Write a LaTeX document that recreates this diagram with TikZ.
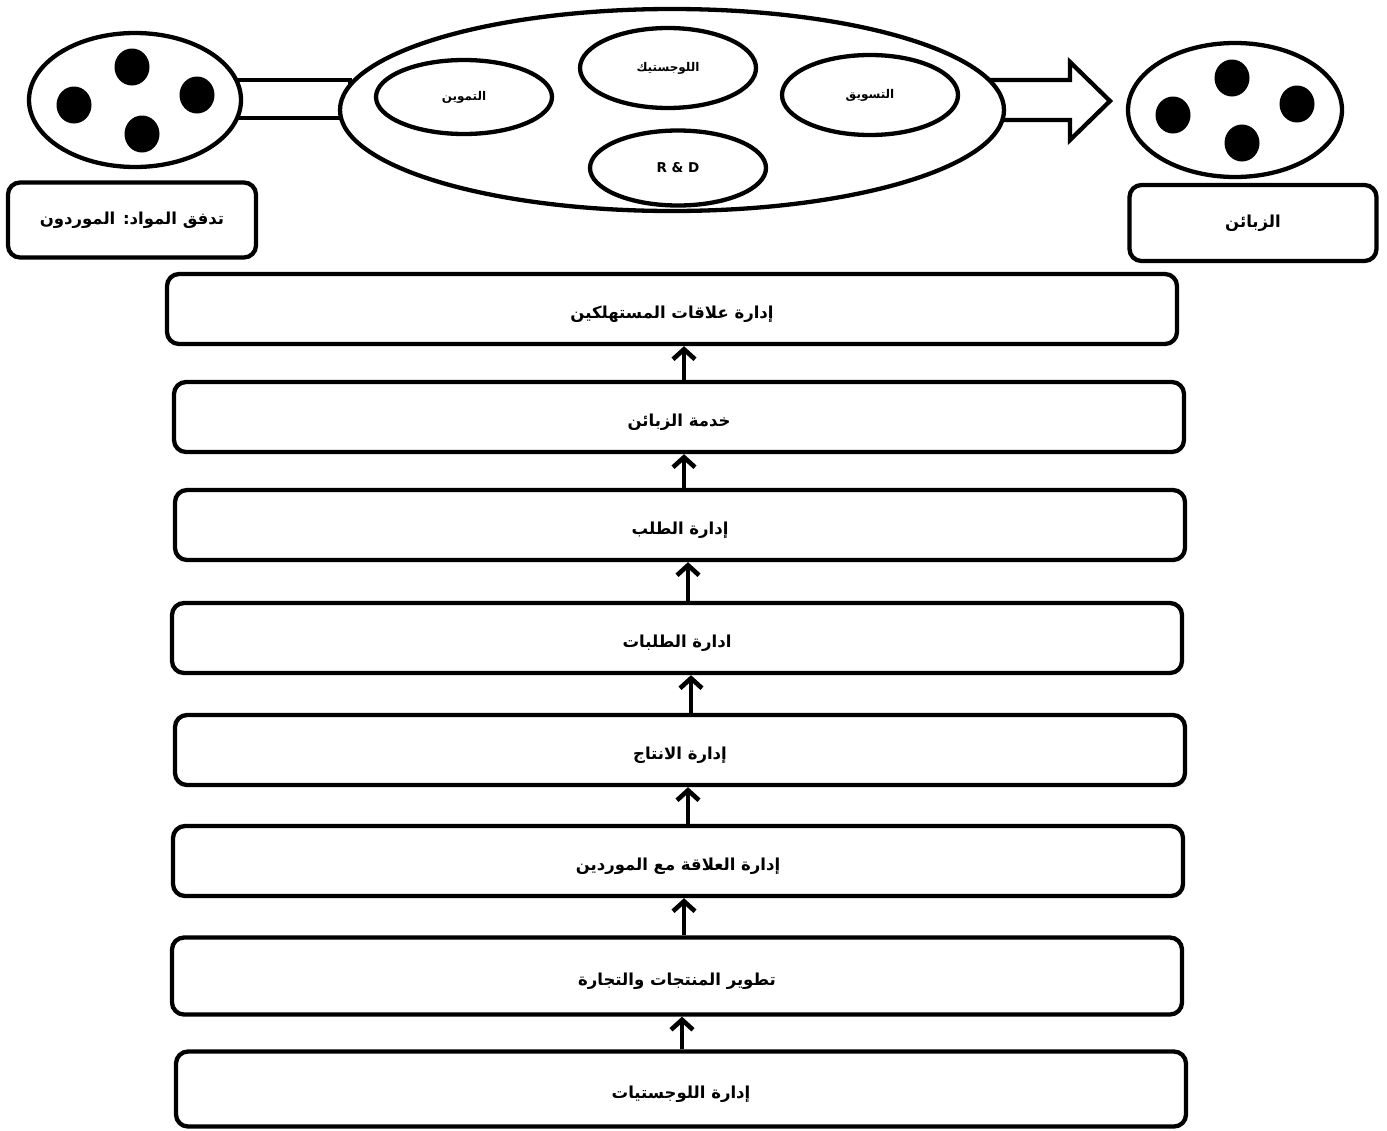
\documentclass[tikz,border=0pt]{standalone}
\usepackage{fontspec}
\usetikzlibrary{shapes.geometric,arrows.meta}
\TeXXeTstate=1
\newfontfamily\arabicfont[Script=Arabic]{DejaVu Sans}
\newfontfamily\latinsans{DejaVu Sans}
\newcommand{\arlbl}[1]{\raisebox{-5pt}[\height][\depth]{\beginR #1\endR}}
\tikzset{
  outl/.style={draw=black, line width=4.3pt, fill=white},
  oval/.style={outl, ellipse, inner sep=0pt},
  dot/.style={ellipse, fill=black, draw=none, minimum width=35pt, minimum height=37pt, inner sep=0pt},
  stagebox/.style={outl, rounded corners=12pt, minimum width=1010pt, minimum height=70pt, inner sep=0pt,
    font=\arabicfont\bfseries\fontsize{16.5}{19}\selectfont},
  labelbox/.style={outl, rounded corners=12pt, inner sep=0pt,
    font=\arabicfont\bfseries\fontsize{16.5}{19}\selectfont},
  innertext/.style={font=\arabicfont\bfseries\fontsize{12}{14}\selectfont},
  uparr/.style={draw=black, line width=4.6pt, -{Straight Barb[length=10pt, width=22pt]}},
}
\begin{document}
\begin{tikzpicture}[x=1pt,y=-1pt]
\useasboundingbox (0,0) rectangle (1387,1130);
% connecting band (left) and block arrow (right)
\draw[outl] (232,80) rectangle (350,118);
\draw[outl, line join=miter] (990,80) -- (1070,80) -- (1070,62) -- (1110,101) -- (1070,140) -- (1070,120) -- (990,120) -- cycle;
% left supplier ellipse
\node[oval, minimum width=212pt, minimum height=134pt] (lel) at (135,100) {};
\node[dot] (ld1) at (132,67) {};
\node[dot] (ld2) at (74,105) {};
\node[dot] (ld3) at (197,95) {};
\node[dot] (ld4) at (142,134) {};
% central ellipse
\node[oval, minimum width=664pt, minimum height=202pt] (cel) at (672,110) {};
\node[oval, minimum width=176pt, minimum height=74pt, innertext] (tam) at (464,97) {\beginR التموين\endR};
\node[oval, minimum width=176pt, minimum height=80pt, innertext] (log) at (668,68) {\beginR اللوجستيك\endR};
\node[oval, minimum width=176pt, minimum height=80pt, innertext] (mkt) at (870,95) {\beginR التسويق\endR};
\node[oval, minimum width=176pt, minimum height=75pt, font=\latinsans\bfseries\fontsize{13.5}{15}\selectfont] (rnd) at (678,168) {R \& D};
% right customer ellipse
\node[oval, minimum width=214pt, minimum height=134pt] (rel) at (1235,110) {};
\node[dot] (rd1) at (1232,78) {};
\node[dot] (rd2) at (1173,115) {};
\node[dot] (rd3) at (1297,104) {};
\node[dot] (rd4) at (1242,143) {};
% label boxes
\node[labelbox, minimum width=248pt, minimum height=75pt] (sup) at (132,220) {\beginR تدفق المواد: الموردون\endR};
\node[labelbox, minimum width=247pt, minimum height=76pt] (cus) at (1253,223) {\beginR الزبائن\endR};
% stage boxes
\node[stagebox] (b1) at (672,309) {\arlbl{إدارة علاقات المستهلكين}};
\node[stagebox] (b2) at (679,417) {\arlbl{خدمة الزبائن}};
\node[stagebox] (b3) at (680,525) {\arlbl{إدارة الطلب}};
\node[stagebox] (b4) at (677,638) {\arlbl{ادارة الطلبات}};
\node[stagebox] (b5) at (680,750) {\arlbl{إدارة الانتاج}};
\node[stagebox] (b6) at (678,861) {\arlbl{إدارة العلاقة مع الموردين}};
\node[stagebox, minimum height=77pt] (b7) at (677,976) {\arlbl{تطوير المنتجات والتجارة}};
\node[stagebox, minimum height=75pt] (b8) at (681,1089) {\arlbl{إدارة اللوجستيات}};
% arrows
\draw[uparr] ([xshift=5pt]b2.north) -- ([xshift=5pt]b2.north |- b1.south);
\draw[uparr] ([xshift=4pt]b3.north) -- ([xshift=4pt]b3.north |- b2.south);
\draw[uparr] ([xshift=11pt]b4.north) -- ([xshift=11pt]b4.north |- b3.south);
\draw[uparr] ([xshift=11pt]b5.north) -- ([xshift=11pt]b5.north |- b4.south);
\draw[uparr] ([xshift=10pt]b6.north) -- ([xshift=10pt]b6.north |- b5.south);
\draw[uparr] ([xshift=7pt]b7.north) -- ([xshift=7pt]b7.north |- b6.south);
\draw[uparr] ([xshift=1pt]b8.north) -- ([xshift=1pt]b8.north |- b7.south);
\end{tikzpicture}
\end{document}
